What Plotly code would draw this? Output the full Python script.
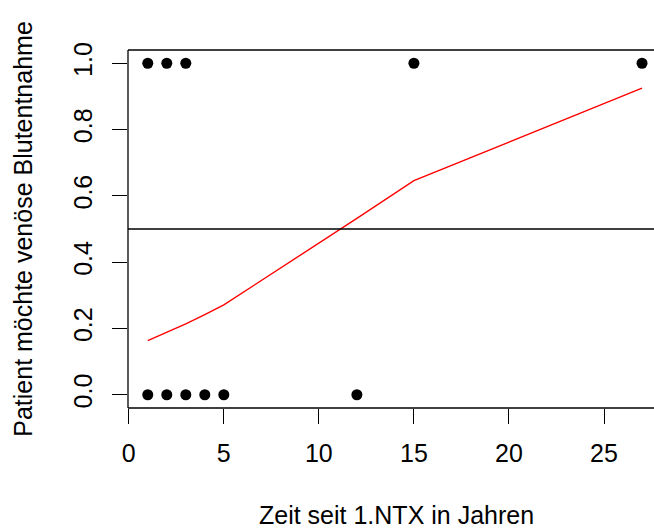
import plotly.graph_objects as go

# observed data
obs_x = [1, 2, 3, 15, 27, 1, 2, 3, 4, 5, 12]
obs_y = [1, 1, 1, 1, 1, 0, 0, 0, 0, 0, 0]
# fitted probability curve
fit_x = [1, 2, 3, 4, 5, 12, 15, 27]
fit_y = [0.163, 0.188, 0.214, 0.242, 0.271, 0.532, 0.646, 0.925]

x_ticks = [0, 5, 10, 15, 20, 25]
y_ticks = [0.0, 0.2, 0.4, 0.6, 0.8, 1.0]
y_tick_text = ["0.0", "0.2", "0.4", "0.6", "0.8", "1.0"]

FONT = "Liberation Sans, Arial, Helvetica, sans-serif"
FS = 25

fig = go.Figure()
fig.add_trace(go.Scatter(x=obs_x, y=obs_y, mode="markers",
                         marker=dict(color="black", size=11), showlegend=False,
                         cliponaxis=False))
fig.add_trace(go.Scatter(x=fit_x, y=fit_y, mode="lines",
                         line=dict(color="red", width=1.4), showlegend=False))

fig.add_hline(y=0.5, line=dict(color="black", width=1.3))

# box: left, bottom, top (right edge lies outside the window)
fig.add_shape(type="line", xref="paper", yref="paper", x0=0, x1=0, y0=0, y1=1,
              line=dict(color="black", width=1.3))
fig.add_shape(type="line", xref="paper", yref="paper", x0=0, x1=1, y0=0, y1=0,
              line=dict(color="black", width=1.3))
fig.add_shape(type="line", xref="paper", yref="paper", x0=0, x1=1, y0=1, y1=1,
              line=dict(color="black", width=1.3))

fig.update_xaxes(range=[-0.04, 27.63], tickvals=x_ticks, ticks="outside",
                 ticklen=15, tickwidth=1.3, tickcolor="black", showgrid=False,
                 zeroline=False, showline=False, ticklabelstandoff=8,
                 tickfont=dict(family=FONT, size=FS, color="black"))
fig.update_yaxes(range=[-0.04, 1.04], tickvals=y_ticks, ticktext=y_tick_text,
                 ticks="outside", ticklen=15, tickwidth=1.3, tickcolor="black",
                 showgrid=False, zeroline=False, showline=False, tickangle=-90,
                 ticklabelstandoff=10,
                 tickfont=dict(family=FONT, size=FS, color="black"))

fig.add_annotation(text="Zeit seit 1.NTX in Jahren", xref="paper", yref="paper",
                   x=(397 - 128.2) / (654 - 128.2), y=-(515 - 408.3) / (408.3 - 50),
                   showarrow=False, xanchor="center", yanchor="middle",
                   font=dict(family=FONT, size=FS, color="black"))
fig.add_annotation(text="Patient möchte venöse Blutentnahme", xref="paper", yref="paper",
                   x=-(128.2 - 23) / (654 - 128.2), y=0.5, textangle=-90,
                   showarrow=False, xanchor="center", yanchor="middle",
                   font=dict(family=FONT, size=FS, color="black"))

fig.update_layout(width=654, height=528, plot_bgcolor="white", paper_bgcolor="white",
                  margin=dict(l=128.2, r=0, t=50, b=528 - 408.3))

fig.write_html("out.html")
